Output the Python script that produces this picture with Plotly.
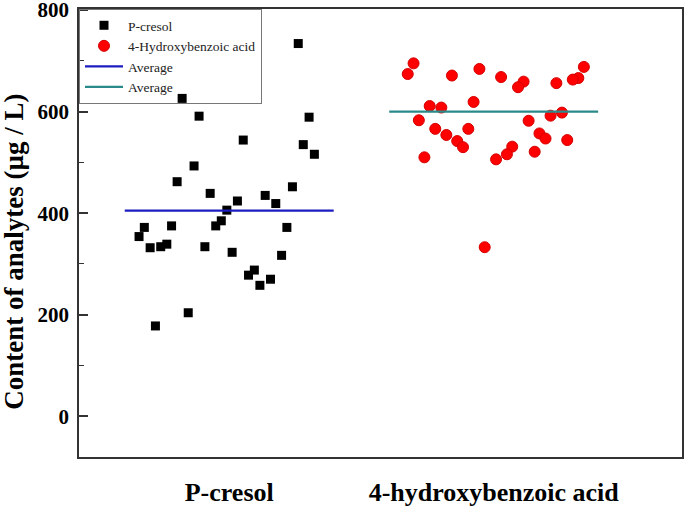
import plotly.graph_objects as go

# ---- data ----
categories = ["P-cresol", "4-hydroxybenzoic acid"]
category_pos = [1, 2]

pcresol_x = [1.261, 0.822, 0.886, 1.302, 1.053, 1.280, 1.322, 0.867, 0.803, 1.239,
             0.928, 1.136, 1.031, 1.176, 0.991, 0.970, 0.949, 0.679, 0.782, 1.218,
             0.659, 0.701, 0.741, 0.764, 0.908, 1.011, 1.198, 1.095, 1.073, 1.156,
             1.116, 0.845, 0.721]
pcresol_y = [734, 626, 591, 589, 544, 535, 516, 493, 462, 452,
             439, 435, 424, 419, 406, 385, 375, 372, 375, 372,
             354, 332, 334, 339, 334, 323, 317, 288, 278, 270,
             258, 204, 178]

hba_x = [1.697, 1.675, 1.842, 1.946, 2.028, 2.113, 2.092, 2.237, 2.341, 2.320,
         2.299, 1.758, 1.802, 1.924, 1.717, 2.132, 2.215, 2.258, 1.779, 1.904,
         1.821, 2.173, 2.196, 2.278, 1.862, 1.884, 2.070, 2.050, 2.155, 1.738,
         2.009, 1.966]
hba_y = [695, 674, 671, 684, 668, 659, 648, 656, 688, 666,
         663, 611, 608, 619, 583, 582, 592, 598, 566, 566,
         554, 557, 547, 544, 542, 530, 531, 516, 521, 510,
         506, 333]

averages = [405, 600]
avg_half_width = 0.395

y_ticks = [0, 200, 400, 600, 800]

serif = "Liberation Serif, Times New Roman, serif"

fig = go.Figure()
fig.add_trace(go.Scatter(
    x=pcresol_x, y=pcresol_y, mode="markers", name="P-cresol",
    marker=dict(symbol="square", size=9, color="#000000",
                line=dict(width=0)),
))
fig.add_trace(go.Scatter(
    x=hba_x, y=hba_y, mode="markers", name="4-Hydroxybenzoic acid",
    marker=dict(symbol="circle", size=11, color="#ff0000",
                line=dict(width=1, color="#d40000")),
))
line_colors = ["#1c1cc0", "#2a8a8a"]
for pos, avg, col in zip(category_pos, averages, line_colors):
    fig.add_trace(go.Scatter(
        x=[pos - avg_half_width, pos + avg_half_width], y=[avg, avg],
        mode="lines", name="Average",
        line=dict(color=col, width=2.2),
    ))

fig.update_layout(
    width=685, height=507,
    margin=dict(l=79, r=3, t=9, b=50, autoexpand=False),
    paper_bgcolor="white", plot_bgcolor="white",
    showlegend=True,
    legend=dict(
        x=0, y=1, xanchor="left", yanchor="top",
        bgcolor="rgba(255,255,255,0)", bordercolor="#777777", borderwidth=1,
        font=dict(family=serif, size=13.5, color="#222222"),
        tracegroupgap=0, itemwidth=38,
    ),
    annotations=[dict(
        text="Content of analytes (µg / L)",
        xref="paper", yref="paper", x=-0.108, y=0.458,
        xanchor="center", yanchor="middle", textangle=-90,
        showarrow=False,
        font=dict(family=serif, size=27, color="#000000", weight="bold"),
    )],
)

fig.update_xaxes(
    range=[0.432, 2.712], automargin=False,
    tickvals=category_pos, ticktext=categories,
    ticks="", showgrid=False, zeroline=False,
    showline=True, linecolor="#333333", linewidth=1.5, mirror=True,
    tickfont=dict(family=serif, size=26, color="#000000", weight="bold"),
    ticklabelstandoff=11,
)
fig.update_yaxes(
    range=[-80, 802], automargin=False,
    tickvals=y_ticks,
    ticks="inside", ticklen=9, tickwidth=1.5, tickcolor="#333333",
    minor=dict(ticks="inside", ticklen=5, tickwidth=1.2, tickcolor="#333333", dtick=100),
    showgrid=False, zeroline=False,
    showline=True, linecolor="#333333", linewidth=1.5, mirror=True,
    tickfont=dict(family=serif, size=21, color="#000000", weight="bold"),
    ticklabelstandoff=4, ticklabeloverflow="allow",
)

fig.write_html("out.html", config={"displayModeBar": False},
               post_script="document.body.style.margin='0';")
